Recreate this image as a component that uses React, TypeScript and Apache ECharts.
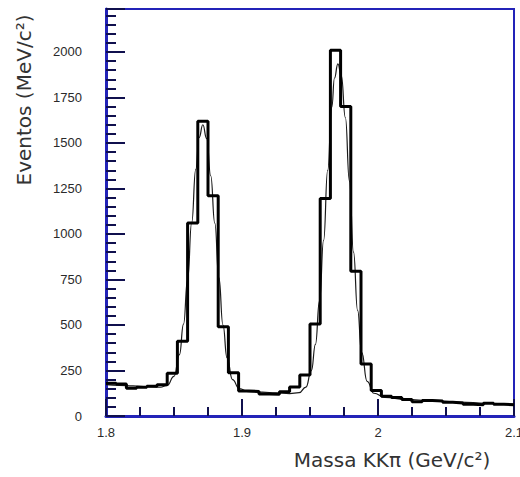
import React, { useEffect, useRef } from "react";
import * as echarts from "echarts";

// Histogram of the KKπ invariant mass: 40 bins of 7.5 MeV from 1.8 to 2.1 GeV
const binStart = 1.8;
const binWidth = 0.0075;
const counts = [
  180, 176, 152, 158, 163, 172, 235, 410, 1060, 1620,
  1210, 490, 238, 138, 135, 121, 120, 133, 160, 225,
  505, 1195, 2010, 1700, 795, 285, 140, 108, 102, 90,
  78, 85, 82, 75, 72, 65, 62, 70, 65, 62,
];

// Fitted curve (two peaks over a falling background)
const fitMass = [
  1.8, 1.81, 1.82, 1.83, 1.84, 1.845, 1.85, 1.854, 1.857, 1.86,
  1.863, 1.866, 1.8685, 1.8712, 1.874, 1.877, 1.88, 1.883, 1.886, 1.889,
  1.893, 1.898, 1.905, 1.915, 1.925, 1.935, 1.942, 1.947, 1.951, 1.954,
  1.957, 1.96, 1.963, 1.966, 1.968, 1.9705, 1.973, 1.976, 1.979, 1.982,
  1.985, 1.988, 1.992, 1.997, 2.005, 2.02, 2.04, 2.06, 2.08, 2.1,
];
const fitValue = [
  172, 168, 165, 161, 158, 168, 218, 337, 505, 750,
  1062, 1355, 1530, 1600, 1525, 1320, 1060, 760, 500, 320,
  200, 150, 134, 131, 127, 123, 128, 159, 249, 394,
  632, 965, 1349, 1696, 1857, 1935, 1870, 1640, 1290, 900,
  580, 350, 190, 125, 102, 92, 84, 76, 70, 64,
];

const xMin = 1.8;
const xMax = 2.1;
const xStep = 0.1;
const yMax = 2236;
const yStep = 250;

const xTitle = "Massa KKπ (GeV/c²)";
const yTitle = "Eventos (MeV/c²)";

export default function App() {
  const ref = useRef<HTMLDivElement>(null);

  useEffect(() => {
    if (!ref.current) return;
    const chart = echarts.init(ref.current, null, { renderer: "svg" });

    const histData: [number, number][] = counts.map((v, i) => [binStart + i * binWidth, v]);
    histData.push([binStart + counts.length * binWidth, counts[counts.length - 1]]);
    const fitData = fitMass.map((m, i) => [m, fitValue[i]]);

    const frameBlue = "#2323b8";
    const tickColor = "#10104e";
    const labelFont = "'Liberation Sans Narrow', 'Liberation Sans', sans-serif";

    chart.setOption({
      animation: false,
      backgroundColor: "#ffffff",
      grid: {
        left: 106,
        right: 6,
        top: 9,
        bottom: 61,
        containLabel: false,
        outerBoundsMode: "none",
        show: true,
        borderColor: frameBlue,
        borderWidth: 2,
        backgroundColor: "transparent",
      },
      xAxis: {
        type: "value",
        min: xMin,
        max: xMax,
        interval: xStep,
        axisLine: { show: true, onZero: false, lineStyle: { color: frameBlue, width: 3 } },
        axisTick: { show: true, inside: true, length: 17, lineStyle: { color: tickColor, width: 2 } },
        minorTick: { show: true, splitNumber: 4, length: 9, lineStyle: { color: tickColor, width: 2 } },
        splitLine: { show: false },
        axisLabel: {
          margin: 10,
          color: "#2a2a2a",
          fontSize: 13,
          fontFamily: labelFont,
          showMinLabel: true,
          showMaxLabel: true,
          formatter: (v: number) => String(Math.round(v * 10) / 10),
        },
      },
      yAxis: {
        type: "value",
        position: "left",
        min: 0,
        max: yMax,
        interval: yStep,
        axisLine: { show: true, onZero: false, lineStyle: { color: frameBlue, width: 3 } },
        axisTick: { show: true, inside: true, length: 19, lineStyle: { color: tickColor, width: 2 } },
        minorTick: { show: true, splitNumber: 5, length: 10, lineStyle: { color: tickColor, width: 2 } },
        splitLine: { show: false },
        axisLabel: {
          margin: 24,
          color: "#2a2a2a",
          fontSize: 13,
          fontFamily: labelFont,
          showMaxLabel: false,
          formatter: (v: number) => String(v),
        },
      },
      series: [
        {
          type: "line",
          data: fitData,
          smooth: true,
          smoothMonotone: "x",
          symbol: "none",
          lineStyle: { color: "#1a1a1a", width: 1.2 },
          z: 2,
        },
        {
          type: "line",
          data: histData,
          step: "end",
          symbol: "none",
          lineStyle: { color: "#000000", width: 3 },
          z: 3,
        },
      ],
      graphic: [
        {
          type: "text",
          x: 24,
          y: 100,
          rotation: Math.PI / 2,
          style: {
            text: yTitle,
            fontSize: 20,
            fontFamily: "'DejaVu Sans', sans-serif",
            fill: "#333333",
            textAlign: "center",
            textVerticalAlign: "middle",
          },
        },
        {
          type: "text",
          x: 392,
          y: 460,
          style: {
            text: xTitle,
            fontSize: 20,
            fontFamily: "'DejaVu Sans', sans-serif",
            fill: "#333333",
            textAlign: "center",
            textVerticalAlign: "middle",
          },
        },
      ],
    });

    return () => chart.dispose();
  }, []);

  return (
    <div
      ref={ref}
      style={{ position: "absolute", left: 0, top: 0, width: 520, height: 477 }}
    />
  );
}
